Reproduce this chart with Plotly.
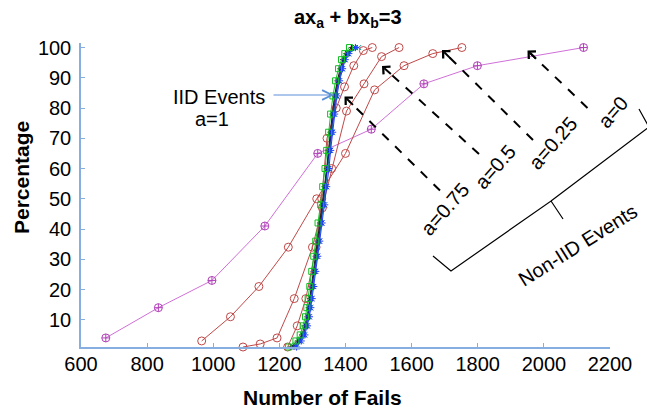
import plotly.graph_objects as go

# ---------------- data ----------------
# Non-IID events
x_a0 = [675, 834, 996, 1156, 1316, 1478, 1637, 1799, 2120]
y_a0 = [4, 14, 23, 41, 65, 73, 88, 94, 100]

x_a025 = [965, 1052, 1138, 1227, 1313, 1400, 1488, 1577, 1664, 1752]
y_a025 = [3, 11, 21, 34, 50, 65, 86, 94, 98, 100]

x_a05 = [1090, 1142, 1193, 1245, 1300, 1330, 1358, 1403, 1456, 1509, 1562]
y_a05 = [1, 2, 4, 17, 34, 47, 60, 79, 88, 97, 100]

x_a075 = [1225, 1254, 1280, 1311, 1328, 1344, 1372, 1397, 1425, 1454, 1481]
y_a075 = [1, 8, 17, 34, 50, 70, 80, 87, 94, 99, 100]

# IID events (a=1), several runs
y_iid = [1, 3, 5, 8, 11, 14, 17, 21, 26, 31, 36, 42, 48, 54, 60, 66, 72, 78, 84, 89, 93, 96, 98, 100]
x_iid_green = [1228, 1250, 1263, 1272, 1279, 1283, 1287, 1292, 1298, 1304, 1310, 1317, 1325, 1331, 1338, 1343, 1349, 1355, 1362, 1370, 1379, 1388, 1398, 1412]
x_iid_blue = [1252, 1266, 1277, 1285, 1291, 1295, 1299, 1304, 1310, 1316, 1322, 1329, 1337, 1343, 1350, 1355, 1361, 1367, 1374, 1382, 1391, 1399, 1410, 1430]
x_iid_navy = [1240, 1259, 1271, 1280, 1286, 1290, 1294, 1299, 1306, 1312, 1318, 1325, 1332, 1338, 1346, 1351, 1357, 1363, 1370, 1378, 1387, 1396, 1406, 1424]
x_iid_black = [1235, 1255, 1268, 1277, 1284, 1288, 1292, 1297, 1303, 1309, 1315, 1322, 1330, 1336, 1343, 1348, 1354, 1360, 1367, 1375, 1384, 1392, 1402, 1418]
x_iid_red = [1244, 1261, 1272, 1281, 1287, 1291, 1295, 1300, 1305, 1311, 1317, 1324, 1331, 1337, 1344, 1349, 1355, 1361, 1368, 1376, 1385, 1394, 1404, 1422]
x_iid_teal = [1248, 1263, 1274, 1283, 1289, 1293, 1297, 1302, 1308, 1314, 1320, 1327, 1334, 1341, 1348, 1353, 1359, 1365, 1372, 1380, 1389, 1398, 1408, 1440]

x_ticks = [600, 800, 1000, 1200, 1400, 1600, 1800, 2000, 2200]
y_ticks = [10, 20, 30, 40, 50, 60, 70, 80, 90, 100]

title_text = "<b>ax<sub>a</sub> + bx<sub>b</sub>=3</b>"
x_title = "Number of Fails"
y_title = "Percentage"

# ---------------- layout geometry (pixels) ----------------
W, H = 647, 410
PL, PR, PT, PB = 81, 610, 43, 347
FONT = "Liberation Sans, Arial, sans-serif"
AXC = "#86aee0"


def xp(px):
    return (px - PL) / (PR - PL)


def yp(py):
    return (PB - py) / (PB - PT)


fig = go.Figure()

MAG_L = "#d070d8"
MAG_M = "#b040b8"
RED_L = "#c04848"
RED_M = "#c04848"


def add(x, y, color, mcolor, symbol, size, width=1):
    fig.add_trace(go.Scatter(
        x=x, y=y, mode="lines+markers",
        line=dict(color=color, width=width),
        marker=dict(symbol=symbol, size=size, color=mcolor,
                    line=dict(color=mcolor, width=1)),
        showlegend=False, hoverinfo="skip", cliponaxis=False))


add(x_a0, y_a0, MAG_L, MAG_M, "circle-cross-open", 8)
add(x_a025, y_a025, RED_L, RED_M, "circle-open", 8)
add(x_a05, y_a05, RED_L, RED_M, "circle-open", 8)
add(x_a075, y_a075, RED_L, RED_M, "circle-open", 8)

add(x_iid_red, y_iid, "#d02020", "#d02020", "circle-open", 4)
add(x_iid_black, y_iid, "#202020", "#202020", "cross-thin-open", 4)
add(x_iid_teal, y_iid, "#009090", "#009090", "x-thin-open", 5)
add(x_iid_navy, y_iid, "#1020a0", "#1020a0", "x-thin-open", 5)
add(x_iid_blue, y_iid, "#2040ff", "#2040ff", "asterisk-open", 6)
add(x_iid_green, y_iid, "#10c020", "#10c020", "square-open", 6)

annotations = []
shapes = []


def label(text, cx, cy, size=20, angle=0):
    annotations.append(dict(text=text, x=xp(cx), y=yp(cy), xref="paper", yref="paper",
                            xanchor="center", yanchor="middle", showarrow=False,
                            textangle=angle,
                            font=dict(size=size, color="black", family=FONT)))


# title and axis titles
label(title_text, 348, 19, 20)
label("<b>" + x_title + "</b>", 322, 397, 21)
label("<b>" + y_title + "</b>", 21, 178, 21, -90)

# IID label and arrow
label("IID Events", 219, 97)
label("a=1", 212, 119)
annotations.append(dict(text="", x=xp(334), y=yp(95), xref="paper", yref="paper",
                        ax=-62, ay=0, showarrow=True, arrowhead=5, arrowsize=1.6,
                        arrowwidth=1.2, arrowcolor="#5a8fd8"))

# dashed arrows to non-IID curves: (head px, tail px)
arrows = [((344.5, 96.5), (440, 190.5)),
          ((382, 66), (479, 154)),
          ((442, 50), (533, 140)),
          ((527.5, 50.5), (587.5, 108))]
for (hx, hy), (tx, ty) in arrows:
    shapes.append(dict(type="line", xref="paper", yref="paper",
                       x0=xp(tx), y0=yp(ty), x1=xp(hx + (tx - hx) * 0.05), y1=yp(hy + (ty - hy) * 0.05),
                       line=dict(color="black", width=2, dash="dash")))
    dx, dy = tx - hx, ty - hy
    n = (dx * dx + dy * dy) ** 0.5
    annotations.append(dict(text="", x=xp(hx), y=yp(hy), xref="paper", yref="paper",
                            ax=dx / n * 14, ay=dy / n * 14, showarrow=True,
                            arrowhead=4, arrowsize=1.0, arrowwidth=2, arrowcolor="black"))

# rotated labels
for t, cx, cy in [("a=0.75", 445, 209), ("a=0.5", 495, 167), ("a=0.25", 553, 143), ("a=0", 613, 112)]:
    label(t, cx, cy, 20, -49)
label("Non-IID Events", 578, 245, 20, -32)

# brace
pts = [(433, 256), (451, 271), (551, 201), (563, 219)]
pts2 = [(551, 201), (649, 127), (639, 109)]
path = "M " + " L ".join(f"{xp(a):.4f},{yp(b):.4f}" for a, b in pts)
path += " M " + " L ".join(f"{xp(a):.4f},{yp(b):.4f}" for a, b in pts2)
shapes.append(dict(type="path", xref="paper", yref="paper", path=path,
                   line=dict(color="black", width=1.2)))

fig.update_layout(
    width=W, height=H,
    margin=dict(l=PL, r=W - PR, t=PT, b=H - PB),
    paper_bgcolor="white", plot_bgcolor="white",
    showlegend=False,
    annotations=annotations, shapes=shapes,
    font=dict(family=FONT, color="black"),
    xaxis=dict(range=[600, 2200], tickvals=x_ticks, ticktext=[str(v) for v in x_ticks],
               showgrid=False, zeroline=False, showline=True, linecolor=AXC, linewidth=1.5,
               ticks="inside", ticklen=4, tickcolor=AXC, tickfont=dict(size=20, family=FONT),
               ticklabelstandoff=-2),
    yaxis=dict(range=[1, 101.5], tickvals=y_ticks, ticktext=[str(v) for v in y_ticks],
               showgrid=False, zeroline=False, showline=True, linecolor=AXC, linewidth=1.5,
               ticks="inside", ticklen=4, tickcolor=AXC, tickfont=dict(size=20, family=FONT),
               ticklabelstandoff=4),
)

fig.write_html("out.html", config={"displayModeBar": False},
               post_script="document.body.style.margin='0';document.body.style.padding='0';")
